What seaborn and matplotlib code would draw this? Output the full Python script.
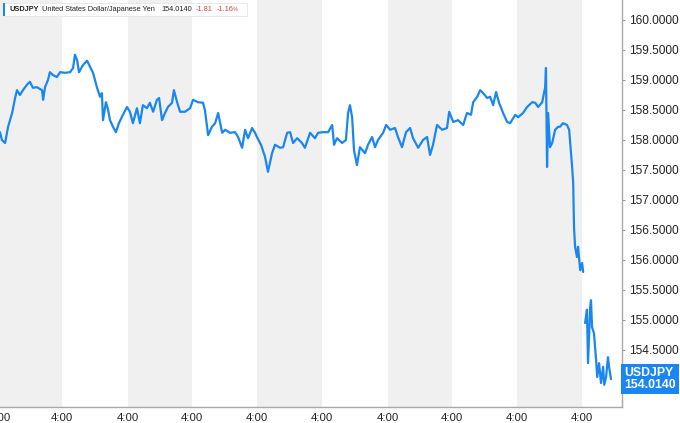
import matplotlib

matplotlib.use("Agg")

import matplotlib.pyplot as plt
import matplotlib.transforms as mtransforms
import numpy as np
import pandas as pd
import seaborn as sns
from matplotlib.patches import Rectangle

sns.set_theme(style="white")
plt.rcParams["font.family"] = ["Liberation Sans", "DejaVu Sans"]

# hours on the trading timeline (one band = one day), USDJPY quote
seg1_hours = [0.0, 0.7, 1.9, 3.0, 4.5, 5.6, 6.3, 7.4, 8.5, 10.0,
              11.1, 12.2, 13.7, 15.6, 16.0, 16.7, 17.8, 18.5, 19.7, 21.1,
              22.3, 24.1, 26.0, 27.1, 27.8, 28.6, 29.3, 30.8, 32.3, 33.4,
              34.5, 36.0, 37.1, 37.8, 38.2, 39.3, 40.1, 40.8, 41.9, 43.0,
              44.1, 45.6, 47.1, 48.2, 49.3, 50.8, 51.9, 53.0, 54.5, 55.6,
              56.8, 58.2, 59.0, 60.1, 61.2, 62.3, 63.8, 64.5, 65.7, 66.8,
              68.6, 70.5, 71.6, 73.4, 75.3, 76.0, 77.2, 78.6, 79.8, 80.9,
              82.4, 83.5, 85.3, 87.2, 88.3, 89.8, 90.9, 92.0, 93.5, 94.6,
              95.3,
              96.8, 98.3, 99.4, 100.9, 102.0, 103.9, 105.0, 106.5, 107.6, 108.7,
              110.2, 112.0, 113.1, 115.0, 116.8, 118.0, 119.8, 121.7, 123.2, 123.9,
              125.0, 126.9, 128.3, 129.1, 129.8, 130.6, 131.3, 132.4, 133.5, 135.4,
              136.5, 138.0, 139.1, 140.2, 142.1, 143.2, 144.7, 146.5, 147.6, 149.1,
              150.6, 152.1, 153.2, 155.1, 156.9, 158.4, 159.5, 160.6, 162.1, 164.0,
              165.8, 166.6, 168.1, 169.9, 171.8, 173.2, 174.7, 175.5, 177.0, 178.1,
              179.2, 180.7, 181.8, 182.9, 184.0, 185.1, 186.6, 188.1, 189.2, 191.1,
              192.2, 194.0, 195.5, 197.4, 198.5, 199.6, 201.1, 202.2, 202.5, 202.9,
              203.3, 204.0, 204.8, 205.9, 207.0, 207.7, 208.8, 210.3, 211.1, 212.2,
              212.6, 212.9, 213.3, 214.0, 214.4, 215.2, 215.9, 216.3]
seg1_price = [158.13, 158.00, 157.95, 158.22, 158.45, 158.70, 158.83, 158.75, 158.83, 158.92,
              158.97, 158.87, 158.88, 158.83, 158.67, 158.88, 159.00, 159.13, 159.08, 159.05,
              159.13, 159.12, 159.13, 159.20, 159.42, 159.33, 159.13, 159.25, 159.32, 159.22,
              159.12, 158.87, 158.72, 158.78, 158.33, 158.63, 158.50, 158.33, 158.22, 158.13,
              158.28, 158.42, 158.55, 158.47, 158.28, 158.53, 158.28, 158.58, 158.53, 158.62,
              158.47, 158.67, 158.70, 158.33, 158.45, 158.55, 158.62, 158.83, 158.63, 158.47,
              158.47, 158.53, 158.67, 158.63, 158.62, 158.50, 158.08, 158.22, 158.28, 158.45,
              158.12, 158.17, 158.12, 158.13, 158.05, 157.87, 158.17, 158.03, 158.20, 158.12,
              158.05,
              157.92, 157.72, 157.47, 157.78, 157.92, 157.87, 157.88, 158.12, 158.13, 157.95,
              158.03, 157.95, 157.87, 158.12, 158.03, 158.12, 158.13, 158.13, 158.25, 157.92,
              158.03, 157.95, 158.00, 158.45, 158.58, 158.38, 157.83, 157.58, 157.88, 157.78,
              157.92, 158.05, 157.88, 158.00, 158.12, 158.25, 158.17, 158.20, 158.05, 157.88,
              158.13, 158.20, 158.03, 157.87, 158.00, 158.05, 157.75, 157.92, 158.25, 158.17,
              158.20, 158.47, 158.30, 158.33, 158.25, 158.45, 158.42, 158.63, 158.72, 158.83,
              158.78, 158.70, 158.72, 158.58, 158.80, 158.62, 158.45, 158.30, 158.28, 158.42,
              158.38, 158.45, 158.55, 158.63, 158.62, 158.55, 158.63, 158.88, 159.20, 157.55,
              158.45, 157.88, 157.95, 158.17, 158.22, 158.22, 158.28, 158.25, 158.17, 157.55,
              157.28, 156.55, 156.22, 156.05, 156.22, 155.83, 155.95, 155.80]

# after the gap
seg2_hours = [217.0, 217.7, 218.1, 218.9, 219.2, 219.6, 220.3, 221.1, 221.5, 222.2,
              222.9, 223.7, 224.1, 224.8, 225.5, 225.9, 226.6]
seg2_price = [154.95, 155.17, 154.28, 155.22, 155.33, 154.88, 154.78, 154.33, 154.05, 154.28,
              153.95, 154.22, 153.92, 154.05, 154.38, 154.22, 154.014]

day_ticks = [0, 23.0, 47.5, 71.2, 95.3, 119.5, 143.9, 167.7, 191.8, 215.9]
tick_label = "4:00"
y_ticks = [154.5, 155.0, 155.5, 156.0, 156.5, 157.0, 157.5, 158.0, 158.5, 159.0, 159.5, 160.0]

symbol = "USDJPY"
name = "United States Dollar/Japanese Yen"
last_price = 154.0140
change = -1.81
change_pct = -1.16

LINE = "#1a86ef"
GREY_BAND = "#f0f0f0"
TEXT = "#222222"
RED = "#d0463c"

df = pd.concat([
    pd.DataFrame({"hours": seg1_hours, "price": seg1_price, "seg": 0}),
    pd.DataFrame({"hours": seg2_hours, "price": seg2_price, "seg": 1}),
])

fig = plt.figure(figsize=(6.8, 4.23), dpi=100)
ax = fig.add_axes([0.0, 16 / 423, 622 / 680, 407 / 423])

edges = day_ticks + [230.7]
for i in range(0, len(day_ticks), 2):
    ax.axvspan(edges[i], edges[i + 1], color=GREY_BAND, lw=0, zorder=0)

sns.lineplot(data=df, x="hours", y="price", units="seg", estimator=None,
             sort=False, color=LINE, lw=1.6, ax=ax, zorder=3)

ax.set_xlim(0, 230.7)
ax.set_ylim(153.55, 160.333)
ax.set_xlabel("")
ax.set_ylabel("")

ax.yaxis.tick_right()
ax.set_yticks(y_ticks)
ax.set_yticklabels([f"{v:.4f}" for v in y_ticks])
ax.set_xticks(day_ticks)
ax.set_xticklabels([tick_label] * len(day_ticks))
ax.tick_params(axis="y", length=2, width=0.8, color="#999999", pad=3,
               labelsize=8.6, labelcolor=TEXT)
ax.tick_params(axis="x", length=2, width=0.8, color="#999999", pad=4,
               labelsize=8.2, labelcolor=TEXT, direction="in")

for side in ["top", "left"]:
    ax.spines[side].set_visible(False)
for side in ["right", "bottom"]:
    ax.spines[side].set_color("#a8a8a8")
    ax.spines[side].set_linewidth(1.0)

# last price tag on the right axis
trans = mtransforms.blended_transform_factory(ax.transAxes, ax.transData)
ax.text(1.004, last_price, f"{symbol}\n{last_price:.4f}", transform=trans,
        ha="left", va="center", color="white", fontsize=8.8, fontweight="bold",
        linespacing=1.0, clip_on=False, zorder=10,
        bbox=dict(boxstyle="square,pad=0.25", fc=LINE, ec="none"))

# header legend
W, H = 680, 423
fig.patches.append(Rectangle((3 / W, 1 - 16 / H), 244 / W, 13 / H, transform=fig.transFigure,
                             fc="white", ec="#e6e6e6", lw=0.6, zorder=5))
fig.patches.append(Rectangle((3 / W, 1 - 16 / H), 1.6 / W, 13 / H, transform=fig.transFigure,
                             fc=LINE, ec="none", zorder=6))
ty = 1 - 9.5 / H
fs = 5.3
fig.text(9 / W, ty, symbol, fontsize=fs, color=TEXT, fontweight="bold", va="center", zorder=7)
fig.text(41.5 / W, ty, name, fontsize=fs, color=TEXT, va="center", zorder=7)
fig.text(161.5 / W, ty, f"{last_price:.4f}", fontsize=fs, color=TEXT, va="center", zorder=7)
fig.text(196 / W, ty, f"{change:.2f}", fontsize=fs, color=RED, va="center", zorder=7)
fig.text(216.5 / W, ty, f"{change_pct:.2f}", fontsize=fs, color=RED, va="center", zorder=7)
fig.text(233 / W, ty - 0.5 / H, "%", fontsize=4.0, color=RED, va="center", zorder=7)

fig.savefig("out.png", dpi=100)
plt.close(fig)
